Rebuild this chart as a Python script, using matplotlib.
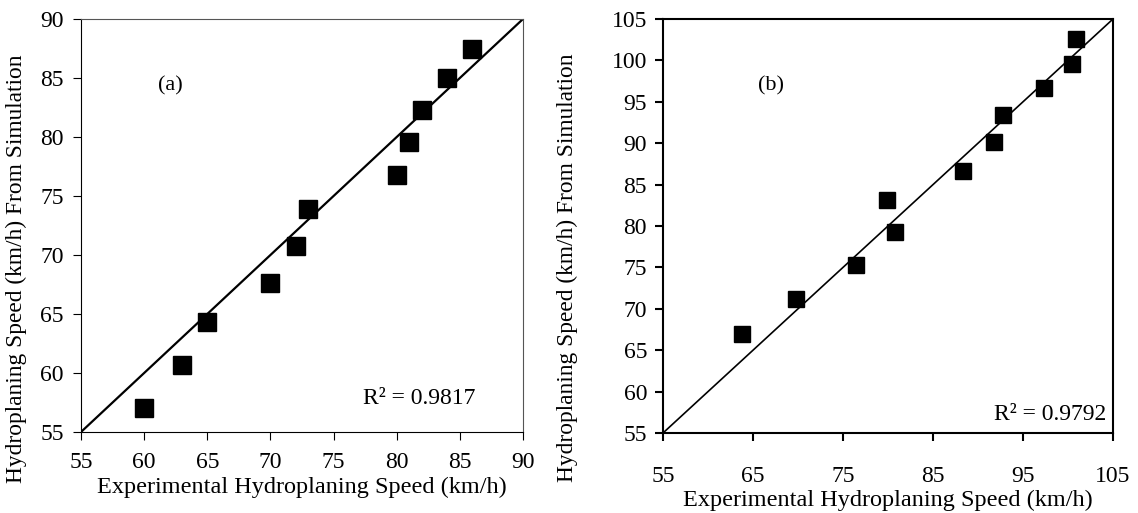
import matplotlib
matplotlib.use('Agg')
import matplotlib.pyplot as plt

plt.rcParams['font.family'] = ['Liberation Serif', 'DejaVu Serif']

# (a) experimental vs simulated hydroplaning speed
exp_a = [60, 63, 65, 70, 72, 73, 80, 81, 82, 84, 86]
sim_a = [57.0, 60.7, 64.3, 67.6, 70.8, 73.9, 76.8, 79.6, 82.3, 85.0, 87.5]
# (b)
exp_b = [63.8, 69.8, 76.4, 79.9, 80.8, 88.3, 91.8, 92.8, 97.3, 100.4, 100.9]
sim_b = [66.9, 71.2, 75.3, 83.1, 79.3, 86.6, 90.1, 93.4, 96.7, 99.6, 102.6]

xlab = 'Experimental Hydroplaning Speed (km/h)'
ylab = 'Hydroplaning Speed (km/h) From Simulation'

fig = plt.figure(figsize=(11.38, 5.13), dpi=100)
ax1 = fig.add_axes([81/1138, 81/513, 442/1138, 413/513])
ax2 = fig.add_axes([663/1138, 80/513, 450/1138, 414/513])

# left panel
ax1.plot([55, 90], [55, 90], color='black', lw=1.6, zorder=2)
ax1.plot(exp_a, sim_a, ls='none', marker='s', ms=13, color='black', zorder=3)
ax1.set_xlim(55, 90); ax1.set_ylim(55, 90)
ax1.set_xticks(range(55, 91, 5)); ax1.set_yticks(range(55, 91, 5))
ax1.text(62.1, 84.3, '(a)', fontsize=16, ha='center', va='center')
ax1.text(81.8, 57.8, 'R² = 0.9817', fontsize=17, ha='center', va='center')
ax1.set_xlabel(xlab, fontsize=17.5, labelpad=3)
ax1.set_ylabel(ylab, fontsize=16.8)
ax1.yaxis.set_label_coords(-0.122, 0.395)
for s in ax1.spines.values(): s.set_linewidth(0.8)
ax1.spines['top'].set_color('#555555'); ax1.spines['right'].set_color('#555555')
ax1.tick_params(labelsize=17, length=5.5, width=0.8)
ax1.tick_params(axis='x', pad=9)
ax1.tick_params(axis='y', pad=7)

# right panel
ax2.plot([55, 105], [55, 105], color='black', lw=1.2, zorder=2)
ax2.plot(exp_b, sim_b, ls='none', marker='s', ms=11.5, color='black', zorder=3)
ax2.set_xlim(55, 105); ax2.set_ylim(55, 105)
ax2.set_xticks(range(55, 106, 10)); ax2.set_yticks(range(55, 106, 5))
ax2.text(67, 96.9, '(b)', fontsize=16, ha='center', va='center')
ax2.text(98, 57.2, 'R² = 0.9792', fontsize=17, ha='center', va='center')
ax2.set_xlabel(xlab, fontsize=17.5, labelpad=2)
ax2.set_ylabel(ylab, fontsize=16.8)
ax2.yaxis.set_label_coords(-0.188, 0.4)
for s in ax2.spines.values(): s.set_linewidth(1.5)
ax2.tick_params(labelsize=17, length=5.5, width=1.5)
ax2.tick_params(axis='x', pad=18)
ax2.tick_params(axis='y', pad=6)

fig.savefig('out.png', dpi=100)
